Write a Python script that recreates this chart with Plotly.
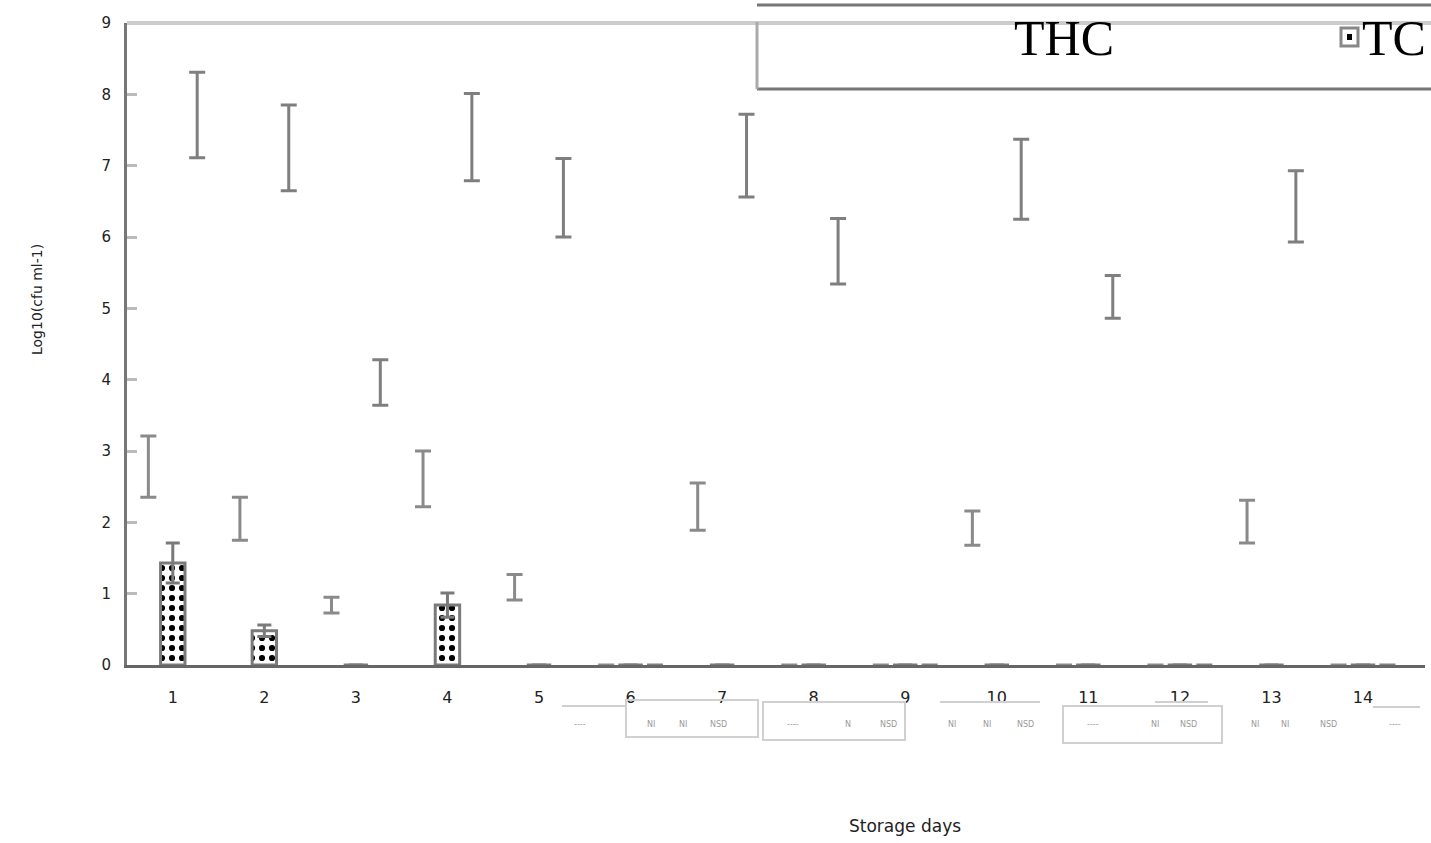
import plotly.graph_objects as go

# ---------------- data ----------------
days = list(range(1, 15))
day_labels = [str(d) for d in days]

thc_mean = [2.78, 2.05, 0.84, 2.61, 1.09, 0, 2.22, 0, 0, 1.92, 0, 0, 2.01, 0]
thc_err = [0.43, 0.30, 0.11, 0.39, 0.18, 0, 0.33, 0, 0, 0.24, 0, 0, 0.30, 0]

tc_mean = [1.43, 0.48, 0, 0.84, 0, 0, 0, 0, 0, 0, 0, 0, 0, 0]
tc_err = [0.28, 0.08, 0, 0.17, 0, 0, 0, 0, 0, 0, 0, 0, 0, 0]

s3_mean = [7.71, 7.25, 3.96, 7.40, 6.55, 0, 7.14, 5.80, 0, 6.81, 5.16, 0, 6.43, 0]
s3_err = [0.60, 0.60, 0.32, 0.61, 0.55, 0, 0.58, 0.46, 0, 0.56, 0.30, 0, 0.50, 0]

y_ticks = list(range(0, 10))

# table fragments under the axis (text only)
table_texts = ["----", "NI", "NI", "NSD", "----", "N", "NSD", "NI", "NI", "NSD",
               "----", "NI", "NSD", "NI", "NI", "NSD", "----"]
table_px = [580, 651, 683, 718, 793, 848, 888, 952, 987, 1025,
            1093, 1155, 1188, 1255, 1285, 1328, 1395]

# ---------------- layout helpers (pixel -> paper) ----------------
W, H = 1431, 843
L, R, T, B = 127, 1425, 23, 665


def px(xp):
    return (xp - L) / (R - L)


def py(yp):
    return (B - yp) / (B - T)


fig = go.Figure()

fig.add_trace(go.Bar(
    x=days, y=thc_mean, name="THC",
    marker=dict(color="rgba(0,0,0,0)", line=dict(width=0)),
    error_y=dict(type="data", array=thc_err, visible=True,
                 color="#8a8a8a", thickness=3, width=8),
    showlegend=False,
))
fig.add_trace(go.Bar(
    x=days, y=tc_mean, name="TC",
    marker=dict(color="white",
                line=dict(color="#7a7a7a", width=3),
                pattern=dict(shape=".", fgcolor="black", bgcolor="white",
                             fgopacity=1, size=10, solidity=0.3)),
    error_y=dict(type="data", array=tc_err, visible=True,
                 color="#7a7a7a", thickness=3, width=7),
    showlegend=False,
))
fig.add_trace(go.Bar(
    x=days, y=s3_mean, name="Series 3",
    marker=dict(color="rgba(0,0,0,0)", line=dict(width=0)),
    error_y=dict(type="data", array=s3_err, visible=True,
                 color="#7f7f7f", thickness=3, width=8),
    showlegend=False,
))

shapes = [
    # top border of plot area
    dict(type="line", xref="paper", yref="paper", x0=0, x1=px(1431), y0=1, y1=1,
         line=dict(color="#cccccc", width=4)),
    # legend box
    dict(type="line", xref="paper", yref="paper", x0=px(757), x1=px(1431),
         y0=py(5), y1=py(5), line=dict(color="#777777", width=3)),
    dict(type="line", xref="paper", yref="paper", x0=px(757), x1=px(1431),
         y0=py(89), y1=py(89), line=dict(color="#777777", width=3)),
    dict(type="line", xref="paper", yref="paper", x0=px(757), x1=px(757),
         y0=py(22), y1=py(89), line=dict(color="#aaaaaa", width=3)),
    # legend marker for TC
    dict(type="rect", xref="paper", yref="paper", x0=px(1341), x1=px(1358),
         y0=py(28), y1=py(46), fillcolor="white", line=dict(color="#888888", width=3)),
    dict(type="rect", xref="paper", yref="paper", x0=px(1347), x1=px(1352),
         y0=py(34), y1=py(40), fillcolor="black", line=dict(width=0)),
    # table fragments
    dict(type="rect", xref="paper", yref="paper", x0=px(626), x1=px(758),
         y0=py(700), y1=py(737), line=dict(color="#d0d0d0", width=2)),
    dict(type="rect", xref="paper", yref="paper", x0=px(763), x1=px(905),
         y0=py(702), y1=py(740), line=dict(color="#d0d0d0", width=2)),
    dict(type="rect", xref="paper", yref="paper", x0=px(1063), x1=px(1222),
         y0=py(706), y1=py(743), line=dict(color="#d0d0d0", width=2)),
    dict(type="line", xref="paper", yref="paper", x0=px(562), x1=px(625),
         y0=py(706), y1=py(706), line=dict(color="#d0d0d0", width=2)),
    dict(type="line", xref="paper", yref="paper", x0=px(1373), x1=px(1420),
         y0=py(707), y1=py(707), line=dict(color="#d0d0d0", width=2)),
    dict(type="line", xref="paper", yref="paper", x0=px(1155), x1=px(1208),
         y0=py(702), y1=py(702), line=dict(color="#d0d0d0", width=2)),
    dict(type="line", xref="paper", yref="paper", x0=px(940), x1=px(1040),
         y0=py(702), y1=py(702), line=dict(color="#d0d0d0", width=2)),
]

annotations = [
    dict(text="THC", xref="paper", yref="paper", x=px(1012), y=py(8),
         xanchor="left", yanchor="top", showarrow=False,
         font=dict(family="Liberation Serif", size=50, color="black")),
    dict(text="TC", xref="paper", yref="paper", x=px(1360), y=py(8),
         xanchor="left", yanchor="top", showarrow=False,
         font=dict(family="Liberation Serif", size=50, color="black")),
    dict(text="Log10(cfu ml-1)", xref="paper", yref="paper", x=px(37), y=py(300),
         xanchor="center", yanchor="middle", textangle=-90, showarrow=False,
         font=dict(family="DejaVu Sans", size=14, color="#222222")),
    dict(text="Storage days", xref="paper", yref="paper", x=px(905), y=py(826),
         xanchor="center", yanchor="middle", showarrow=False,
         font=dict(family="DejaVu Sans", size=17, color="#222222")),
]
for t, xp in zip(table_texts, table_px):
    annotations.append(dict(text=t, xref="paper", yref="paper", x=px(xp), y=py(724),
                            xanchor="center", yanchor="middle", showarrow=False,
                            font=dict(family="DejaVu Sans", size=8, color="#9a9a9a")))

fig.update_layout(
    width=W, height=H,
    margin=dict(l=L, r=W - R, t=T, b=H - B, autoexpand=False),
    paper_bgcolor="white", plot_bgcolor="white",
    barmode="group", bargap=0.2, bargroupgap=0,
    showlegend=False,
    shapes=shapes, annotations=annotations,
    xaxis=dict(range=[0.5, 14.677], tickmode="array", tickvals=days, ticktext=day_labels,
               showgrid=False, zeroline=False, showline=True, linecolor="#666666",
               linewidth=3, ticks="", ticklabelstandoff=16,
               tickfont=dict(family="DejaVu Sans", size=16, color="#222222")),
    yaxis=dict(range=[0, 9], tickmode="array", tickvals=y_ticks,
               ticktext=[str(v) for v in y_ticks],
               showgrid=False, zeroline=False, showline=True, linecolor="#777777",
               linewidth=3, ticks="inside", ticklen=10, tickwidth=3, tickcolor="#bbbbbb",
               ticklabelstandoff=10,
               tickfont=dict(family="DejaVu Sans", size=15, color="#222222")),
)

fig.write_html("out.html", config={"displayModeBar": False},
               post_script="document.body.style.margin='0px';document.body.style.overflow='hidden';")
